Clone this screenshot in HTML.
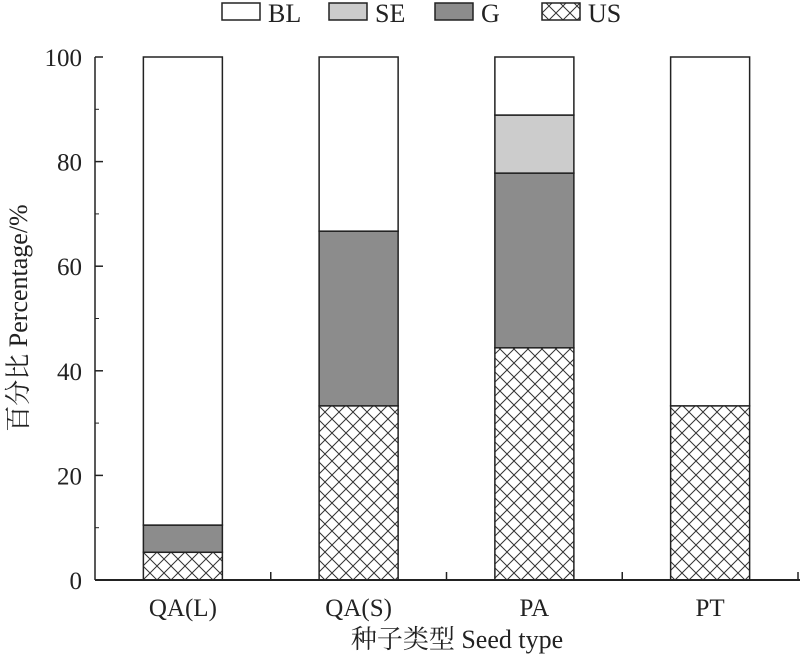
<!DOCTYPE html>
<html><head><meta charset="utf-8"><style>
body{margin:0;background:#fff}
svg text{font-family:"Liberation Serif","Noto Serif CJK SC",serif;fill:#222}
</style></head><body>
<svg id="chart" width="800" height="661" viewBox="0 0 800 661" xmlns="http://www.w3.org/2000/svg">
<defs>
<pattern id="hatch" width="14" height="14" patternUnits="userSpaceOnUse" x="143" y="580">
<rect width="14" height="14" fill="#fff"/>
<path d="M0,0L14,14M14,0L0,14" stroke="#333" stroke-width="1"/>
</pattern>
</defs>
<g id="legend"></g>
<g id="bars"></g>
<g id="axes"></g>
</svg>
<script>
const categories = ["QA(L)", "QA(S)", "PA", "PT"];
const usVals = [5.3, 33.3, 44.4, 33.3];
const gVals = [5.2, 33.4, 33.4, 0];
const seVals = [0, 0, 11.1, 0];
const blVals = [89.5, 33.3, 11.1, 66.7];
const yTicks = [0, 20, 40, 60, 80, 100];
const seriesNames = ["BL", "SE", "G", "US"];

const NS = "http://www.w3.org/2000/svg";
const x0 = 95, x1 = 798, yBase = 580, yTop = 57;
const y = v => yBase - (v / 100) * (yBase - yTop);
const band = (x1 - x0) / categories.length;
const barW = 79;
const fills = {US: "url(#hatch)", G: "#8c8c8c", SE: "#cccccc", BL: "#ffffff"};
function mk(tag, attrs, parent) {
  const e = document.createElementNS(NS, tag);
  for (const k in attrs) e.setAttribute(k, attrs[k]);
  parent.appendChild(e);
  return e;
}
const bars = document.getElementById("bars");
const axes = document.getElementById("axes");
const legend = document.getElementById("legend");

categories.forEach((c, i) => {
  const cx = x0 + band * (i + 0.5);
  const stack = [["US", usVals[i]], ["G", gVals[i]], ["SE", seVals[i]], ["BL", blVals[i]]];
  let acc = 0;
  stack.forEach(([s, v]) => {
    if (v <= 0) return;
    const r = mk("rect", {x: cx - barW / 2, y: y(acc + v), width: barW, height: y(acc) - y(acc + v), fill: fills[s], stroke: "#222", "stroke-width": 1.5}, bars);
    
    
    acc += v;
  });
  const t = mk("text", {x: cx, y: 616, "text-anchor": "middle", "font-size": 25}, axes);
  t.textContent = c;
  
  
  const tk = mk("line", {x1: x0 + band * (i + 1), x2: x0 + band * (i + 1), y1: yBase, y2: yBase - 8, stroke: "#222", "stroke-width": 1.5}, axes);
  
  
});

yTicks.forEach(v => {
  const l = mk("line", {x1: x0, x2: x0 + 8, y1: y(v), y2: y(v), stroke: "#222", "stroke-width": 1.5}, axes);
  
  
  const t = mk("text", {x: 82, y: y(v) + 9, "text-anchor": "end", "font-size": 25}, axes);
  t.textContent = v;
  
  
});
for (let v = 10; v < 100; v += 20) {
  const l = mk("line", {x1: x0, x2: x0 + 4, y1: y(v), y2: y(v), stroke: "#222", "stroke-width": 1}, axes);
  
  
}
const ya = mk("line", {x1: x0, x2: x0, y1: yTop, y2: yBase, stroke: "#222", "stroke-width": 1.5}, axes);


const xa = mk("line", {x1: x0, x2: 800, y1: yBase, y2: yBase, stroke: "#222", "stroke-width": 2}, axes);



const xt = mk("text", {x: 457, y: 648, "text-anchor": "middle", "font-size": 26}, axes);
xt.textContent = "种子类型 Seed type";


const yt = mk("text", {x: 0, y: 0, "text-anchor": "middle", "font-size": 26, transform: "translate(27,318) rotate(-90)"}, axes);
yt.textContent = "百分比 Percentage/%";



const legX = [222, 329, 435, 542];
seriesNames.forEach((s, i) => {
  const r = mk("rect", {x: legX[i], y: 3, width: 38, height: 17, fill: fills[s], stroke: "#222", "stroke-width": 1.5}, legend);
  
  
  const t = mk("text", {x: legX[i] + 46, y: 22, "font-size": 26}, legend);
  t.textContent = s;
  
  
});
</script>
</body></html>
